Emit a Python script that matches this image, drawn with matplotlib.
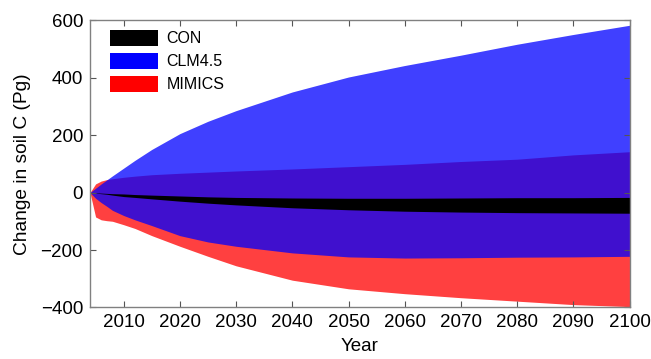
import numpy as np
import matplotlib
matplotlib.use('Agg')
import matplotlib.pyplot as plt
from matplotlib.patches import Patch

plt.rcParams['font.family'] = ['Liberation Sans', 'DejaVu Sans']

years = [2004, 2005, 2006, 2007, 2008, 2010, 2012, 2015, 2020, 2025,
         2030, 2040, 2050, 2060, 2070, 2080, 2090, 2100]

# CON range
con_hi = [0, -1, -2, -3, -4, -5, -7, -9, -12, -15, -17, -19, -20, -20, -19, -18, -18, -17]
con_lo = [0, -2, -4, -6, -9, -14, -17, -22, -30, -37, -43, -53, -60, -65, -68, -70, -71, -72]

# CLM4.5 range
clm_hi = [0, 15, 30, 44, 58, 85, 112, 150, 205, 248, 285, 350, 402, 442, 478, 516, 550, 582]
clm_lo = [0, -20, -35, -48, -62, -80, -95, -115, -150, -172, -187, -210, -224, -228, -227, -225, -224, -222]

# MIMICS range
mim_hi = [0, 30, 40, 45, 48, 53, 57, 62, 67, 71, 75, 82, 90, 98, 108, 116, 131, 142]
mim_lo = [0, -85, -95, -98, -100, -112, -125, -150, -187, -222, -255, -305, -335, -352, -366, -378, -390, -397]

fig = plt.figure(figsize=(6.51, 3.59), dpi=100)
ax = fig.add_axes([0.1382, 0.1435, 0.8288, 0.8005])

ax.fill_between(years, mim_lo, mim_hi, color='red', alpha=0.75, lw=0)
ax.fill_between(years, clm_lo, clm_hi, color='blue', alpha=0.75, lw=0)
ax.fill_between(years, con_lo, con_hi, color='black', lw=0)

ax.set_xlim(2004, 2100)
ax.set_ylim(-400, 600)
ax.set_xticks(np.arange(2010, 2101, 10))
ax.set_yticks(np.arange(-400, 601, 200))
ax.tick_params(direction='in', top=True, right=True, length=4, width=0.8,
               color='#555555', labelsize=13.5, pad=5)
for s in ax.spines.values():
    s.set_color('#808080')
    s.set_linewidth(1)

ax.set_xlabel('Year', fontsize=13.5, labelpad=5)
ax.set_ylabel('Change in soil C (Pg)', fontsize=13.8, labelpad=7)

handles = [Patch(facecolor='black', label='CON'),
           Patch(facecolor='blue', label='CLM4.5'),
           Patch(facecolor='red', label='MIMICS')]
ax.legend(handles=handles, loc='upper left', frameon=False, fontsize=11.5,
          handlelength=3.0, handleheight=1.15, handletextpad=0.55,
          labelspacing=0.42, borderpad=0, borderaxespad=0,
          bbox_to_anchor=(0.037, 0.966))

fig.savefig('out.png', dpi=100)
